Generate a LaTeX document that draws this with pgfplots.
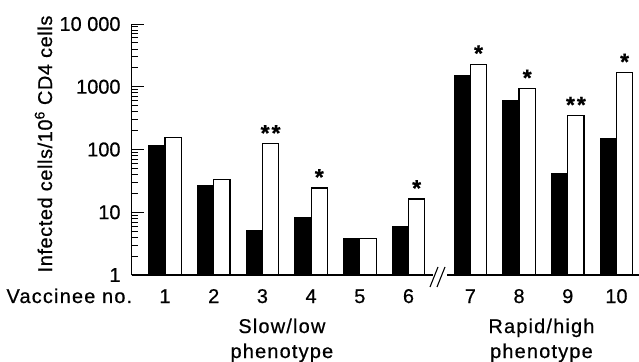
\documentclass[border=0pt]{standalone}
\usepackage{fontspec}
\setmainfont{Liberation Sans}[FakeBold=0.6]
\newfontfamily\lsfont{Liberation Sans}[LetterSpace=6,FakeBold=0.6]
\newfontfamily\lyfont{Liberation Sans}[LetterSpace=3,FakeBold=0.6]
\usepackage{pgfplots}
\usepackage{pgfplotstable}
\pgfplotsset{compat=1.18}
\newcommand\ff{\fontsize{20}{24}\selectfont}
\newcommand\st{\textbf{*}}
\pgfplotstableread{
x     black  white  star
1     115    157    {}
2     26.5   33     {}
3     5.2    123    {\st\hspace{2bp}\st}
4     8.4    24.4   {\st}
5     3.85   3.85   {}
6     5.9    16.3   {\st}
7.27  1490   2290   {\st}
8.27  611    935    {\st}
9.27  42     347    {\st\hspace{2bp}\st}
10.27 149    1683   {\st}
}\datatable
\begin{document}
\begin{tikzpicture}
\begin{axis}[
  at={(131.7bp,87bp)}, anchor=south west,
  scale only axis, width=507.3bp, height=251bp,
  ymode=log, ymin=1, ymax=10000,
  xmin=0.316, xmax=10.733,
  axis lines=left, axis line style={-, line width=1.2bp},
  ybar, bar width=0.335,
  xtick={1,2,3,4,5,6,7.27,8.27,9.27,10.27},
  xticklabels={\mbox{1},\mbox{2},\mbox{3},\mbox{4},\mbox{5},\mbox{6},\mbox{7},\mbox{8},\mbox{9},\mbox{10}},
  xtick style={draw=none},
  ytick={1,10,100,1000,10000},
  yticklabels={\mbox{1},\mbox{10},\mbox{100},\mbox{1000},\mbox{10 000}},
  tick align=inside,
  major tick length=12bp, minor tick length=6bp,
  ytick style={line width=0.9bp, black},
  yticklabel style={anchor=east, inner sep=0pt, xshift=-11bp},
  xticklabel style={anchor=base, inner sep=0pt, yshift=-28bp},
  tick label style={font=\ff},
  clip=false,
]
\addplot[fill=black, draw=black, line width=1bp, bar shift=-0.1675] table[x=x, y=black] {\datatable};
\addplot[fill=white, draw=black, line width=1.2bp, bar shift=0.1675,
  nodes near coords, point meta=explicit symbolic,
  every node near coord/.append style={anchor=base, inner sep=0pt, yshift=3bp, font=\fontsize{23}{26}\selectfont}]
  table[x=x, y=white, meta=star] {\datatable};
\node[anchor=base, font=\ff] at (axis cs:3.40,1) [yshift=-58bp] {\lsfont Slow/low};
\node[anchor=base, font=\ff] at (axis cs:3.40,1) [yshift=-83bp] {\lsfont phenotype};
\node[anchor=base, font=\ff] at (axis cs:8.73,1) [yshift=-58bp] {\lsfont Rapid/high};
\node[anchor=base, font=\ff] at (axis cs:8.73,1) [yshift=-83bp] {\lsfont phenotype};
\end{axis}
\node[anchor=base west, font=\ff] at (3bp,59bp) {\lsfont Vaccinee no.};
\node[rotate=90, anchor=base, font=\ff] at (52bp,218bp) {\lyfont Infected cells/10\textsuperscript{6} CD4 cells};
\fill[white] (432.5bp,84bp) rectangle (446.5bp,90bp);
\draw[line width=1.1bp] (430bp,75bp) -- (438bp,95bp);
\draw[line width=1.1bp] (437bp,75bp) -- (445bp,95bp);
\pgfresetboundingbox
\path[use as bounding box] (0,0) rectangle (639bp,362bp);
\end{tikzpicture}
\end{document}
